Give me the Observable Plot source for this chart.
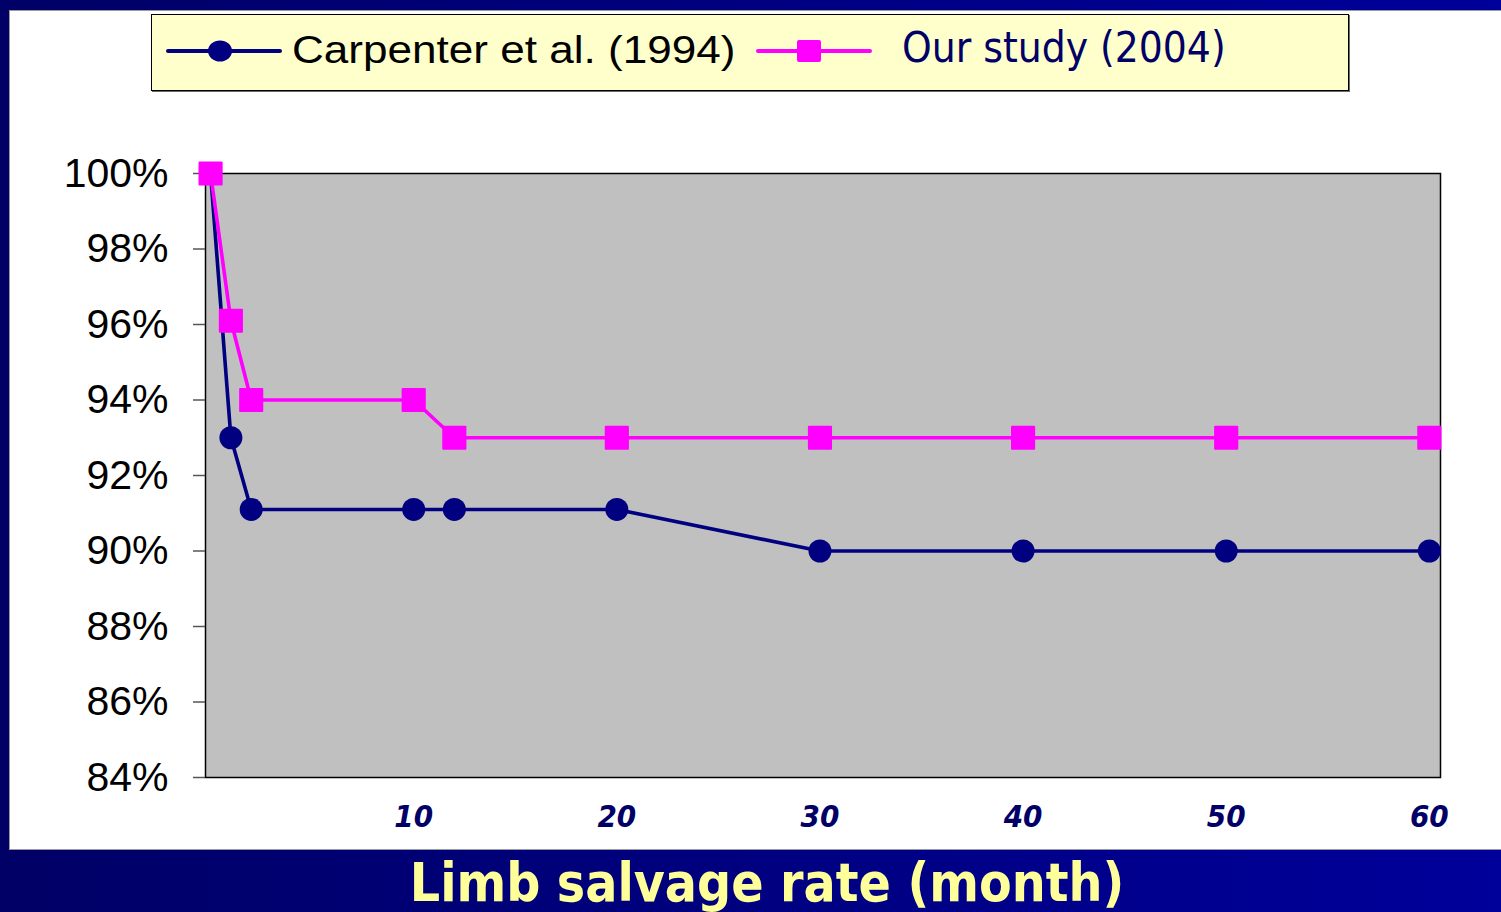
<!DOCTYPE html>
<html>
<head>
<meta charset="utf-8">
<script src="https://cdn.jsdelivr.net/npm/d3@7"></script>
<script src="https://cdn.jsdelivr.net/npm/@observablehq/plot@0.6"></script>
<style>
  html, body { margin: 0; padding: 0; background: #000066; }
  #slide { position: relative; width: 1501px; height: 912px; overflow: hidden;
           background: linear-gradient(to right, #000066, #00009a); }
  #paper { position: absolute; left: 9px; top: 10px; width: 1492px; height: 840px; background: #fff;
           border-top: 1px solid #9a9a9a; border-left: 1px solid #9a9a9a; border-bottom: 1px solid #9a9a9a;
           box-sizing: border-box; }
  #chart { position: absolute; left: 0; top: 0; }
  #legend { position: absolute; left: 151px; top: 14px; width: 1198px; height: 77px; background: #ffffcc;
            border: 1px solid #000; box-sizing: border-box; box-shadow: 1px 1px 0 #6a6a6a; }
  #legend .sym { position: absolute; top: 0; }
  #legend .txt { position: absolute; white-space: nowrap; line-height: 1; }
  .arial { font-family: "Liberation Sans", Arial, sans-serif; font-size: 38px; transform: scaleX(1.16); transform-origin: 0 0; }
  .tahoma { font-family: "DejaVu Sans Condensed", "DejaVu Sans", sans-serif; font-stretch: condensed; font-size: 42px; color: #000066; }
  #xtitle { position: absolute; left: 17px; width: 1500px; top: 856px; text-align: center; white-space: nowrap;
            font-family: "DejaVu Sans Condensed", "DejaVu Sans", sans-serif; font-stretch: condensed;
            font-weight: bold; font-size: 53px; line-height: 1; color: #ffff99; }
</style>
</head>
<body>
<div id="slide">
  <div id="paper"></div>
  <div id="chart"></div>
  <div id="legend"></div>
  <div id="xtitle"></div>
</div>
<script>
// ---- data ----
const months = [0, 1, 2, 10, 12, 20, 30, 40, 50, 60];
const carpenter = [100, 93, 91.1, 91.1, 91.1, 91.1, 90, 90, 90, 90];
const ourStudy = [100, 96.1, 94, 94, 93, 93, 93, 93, 93, 93];
const seriesNames = ["Carpenter et al. (1994)", "Our study (2004)"];
const yTicks = [84, 86, 88, 90, 92, 94, 96, 98, 100];
const xTicks = [10, 20, 30, 40, 50, 60];
const xTitle = "Limb salvage rate (month)";

const navy = "#000080", pink = "#ff00ff";

const carpData = months.map((m, i) => ({month: m, rate: carpenter[i]}));
const oursData = months.map((m, i) => ({month: m, rate: ourStudy[i]}));

const chart = Plot.plot({
  width: 1501,
  height: 850,
  marginLeft: 205,
  marginRight: 61,
  marginTop: 173,
  marginBottom: 73,
  style: {background: "transparent", fontFamily: "'Liberation Sans', Arial, sans-serif", overflow: "visible"},
  x: {domain: [-0.25, 60.55]},
  y: {domain: [84, 100]},
  marks: [
    Plot.frame({fill: "#c0c0c0", stroke: "#000", strokeWidth: 1.5}),
    Plot.axisY({ticks: yTicks, tickFormat: d => d + "%", tickSize: 12, tickPadding: 25,
                fontSize: 41, fill: "#000", stroke: "#555", strokeWidth: 1.5, label: null}),
    Plot.axisX({ticks: xTicks, tickFormat: d => String(d), tickSize: 0, tickPadding: 27,
                fontSize: 31, fontWeight: "bold", fontStyle: "italic",
                fontFamily: "'DejaVu Sans Condensed', 'DejaVu Sans', sans-serif",
                fill: "#000066", label: null}),
    Plot.line(carpData, {x: "month", y: "rate", stroke: navy, strokeWidth: 3.6}),
    Plot.dot(carpData, {x: "month", y: "rate", r: 11.5, fill: navy}),
    Plot.line(oursData, {x: "month", y: "rate", stroke: pink, strokeWidth: 3.6}),
    Plot.dot(oursData, {x: "month", y: "rate", symbol: "square", r: 12.5, fill: pink,
                        stroke: pink, strokeWidth: 2, strokeLinejoin: "round"})
  ]
});
chart.querySelectorAll("text").forEach(t => {
  if (t.closest('[aria-label="x-axis tick label"]')) t.style.fontStretch = "condensed";
});
document.getElementById("chart").appendChild(chart);

// ---- legend ----
const legend = document.getElementById("legend");
function symbol(left, color, shape) {
  const s = d3.create("svg").attr("class", "sym").attr("width", 116).attr("height", 75)
    .style("left", left + "px");
  s.append("line").attr("x1", 2).attr("x2", 114).attr("y1", 36).attr("y2", 36)
    .attr("stroke", color).attr("stroke-width", 4).attr("stroke-linecap", "round");
  if (shape === "circle") s.append("ellipse").attr("cx", 54).attr("cy", 36).attr("rx", 12).attr("ry", 10.5).attr("fill", color);
  else s.append("rect").attr("x", 41).attr("y", 25).attr("width", 24).attr("height", 22).attr("rx", 2).attr("fill", color);
  legend.appendChild(s.node());
}
function text(left, top, cls, str, color) {
  const d = document.createElement("div");
  d.className = "txt " + cls;
  d.style.left = left + "px";
  d.style.top = top + "px";
  if (color) d.style.color = color;
  d.textContent = str;
  legend.appendChild(d);
}
symbol(14, navy, "circle");
text(140, 16, "arial", seriesNames[0], "#000");
symbol(604, pink, "square");
text(750, 12, "tahoma", seriesNames[1]);

document.getElementById("xtitle").textContent = xTitle;
</script>
</body>
</html>
